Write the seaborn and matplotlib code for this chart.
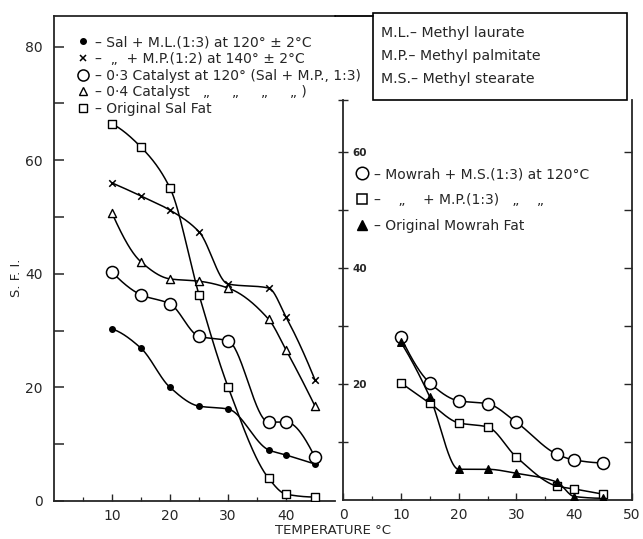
import numpy as np
import pandas as pd
import matplotlib
matplotlib.use("Agg")
import matplotlib.pyplot as plt
import seaborn as sns
from matplotlib.lines import Line2D
from matplotlib.patches import Rectangle

# ---------------- data ----------------
temps = [10, 15, 20, 25, 30, 37, 40, 45]

sal_ml = [30.3, 26.9, 20.0, 16.7, 16.2, 9.0, 8.1, 6.5]
sal_mp = [56.0, 53.7, 51.2, 47.4, 38.2, 37.5, 32.4, 21.3]
cat_03 = [40.3, 36.3, 34.7, 29.0, 28.2, 13.9, 13.9, 7.7]
cat_04 = [50.7, 42.1, 39.1, 38.7, 37.5, 32.0, 26.6, 16.7]
sal_orig = [66.4, 62.3, 55.1, 36.3, 20.1, 4.0, 1.2, 0.7]

mow_ms = [28.1, 20.2, 17.1, 16.6, 13.4, 7.9, 6.9, 6.4]
mow_mp = [20.2, 16.7, 13.3, 12.6, 7.4, 2.4, 1.9, 1.0]
mow_orig = [27.2, 17.8, 5.3, 5.3, 4.6, 3.1, 0.6, 0.3]

left_labels = [
    "– Sal + M.L.(1:3) at 120° ± 2°C",
    "–  „  + M.P.(1:2) at 140° ± 2°C",
    "– 0·3 Catalyst at 120° (Sal + M.P., 1:3)",
    "– 0·4 Catalyst   „     „     „     „ )",
    "– Original Sal Fat",
]
right_labels = [
    "– Mowrah + M.S.(1:3) at 120°C",
    "–    „    + M.P.(1:3)   „    „",
    "– Original Mowrah Fat",
]
abbrev_text = "M.L.– Methyl laurate\nM.P.– Methyl palmitate\nM.S.– Methyl stearate"
y_label = "S. F. I."
x_label = "TEMPERATURE °C"


# ---------------- smooth curve helper (monotone cubic) ----------------
def pchip(x, y, xs):
    x = np.asarray(x, float)
    y = np.asarray(y, float)
    h = np.diff(x)
    d = np.diff(y) / h
    n = len(x)
    m = np.zeros(n)
    for k in range(1, n - 1):
        if d[k - 1] * d[k] > 0:
            w1 = 2 * h[k] + h[k - 1]
            w2 = h[k] + 2 * h[k - 1]
            m[k] = (w1 + w2) / (w1 / d[k - 1] + w2 / d[k])
    def endslope(h0, h1, d0, d1):
        s = ((2 * h0 + h1) * d0 - h0 * d1) / (h0 + h1)
        if np.sign(s) != np.sign(d0):
            s = 0.0
        elif np.sign(d0) != np.sign(d1) and abs(s) > abs(3 * d0):
            s = 3 * d0
        return s
    m[0] = endslope(h[0], h[1], d[0], d[1])
    m[-1] = endslope(h[-1], h[-2], d[-1], d[-2])
    idx = np.clip(np.searchsorted(x, xs) - 1, 0, n - 2)
    t = (xs - x[idx]) / h[idx]
    h00 = 2 * t**3 - 3 * t**2 + 1
    h10 = t**3 - 2 * t**2 + t
    h01 = -2 * t**3 + 3 * t**2
    h11 = t**3 - t**2
    return h00 * y[idx] + h10 * h[idx] * m[idx] + h01 * y[idx + 1] + h11 * h[idx] * m[idx + 1]


sns.set_style("ticks")
plt.rcParams["font.family"] = ["DejaVu Sans"]

W, H = 643, 539
fig = plt.figure(figsize=(W / 100, H / 100), dpi=100)

def fx(px):
    return px / W

def fy(py):
    return 1 - py / H

# left panel: x from px 54 to 335, y from px 501 (0) to 16 (top)
axL = fig.add_axes([fx(54), fy(501), fx(335) - fx(54), fy(16) - fy(501)])
# right panel: x from px 343 to 632, y from px 500 (0) to 100 (top)
axR = fig.add_axes([fx(343), fy(500), fx(632) - fx(343), fy(100) - fy(500)])
axR.patch.set_alpha(0)

lw = 1.1
xs = np.linspace(10, 45, 300)

def draw(ax, vals, marker, s, fill, mlw=1.0):
    sns.lineplot(x=xs, y=pchip(temps, vals, xs), ax=ax, color="black",
                 linewidth=lw, estimator=None, sort=False)
    if marker == "x":
        sns.scatterplot(x=temps, y=vals, ax=ax, marker="x", s=s, color="black",
                        linewidth=1.1, zorder=3)
    else:
        sns.scatterplot(x=temps, y=vals, ax=ax, marker=marker, s=s,
                        facecolor=fill, edgecolor="black", linewidth=mlw, zorder=3)

draw(axL, sal_ml, "o", 16, "black")
draw(axL, sal_mp, "x", 22, "black")
draw(axL, cat_03, "o", 75, "white", 1.1)
draw(axL, cat_04, "^", 34, "white")
draw(axL, sal_orig, "s", 26, "white")

draw(axR, mow_ms, "o", 75, "white", 1.1)
draw(axR, mow_mp, "s", 30, "white")
draw(axR, mow_orig, "^", 30, "black")

# ---------- left axes styling ----------
axL.set_xlim(0, (335 - 54) / 5.8)
axL.set_ylim(0, (501 - 16) / 5.68)
axL.spines["right"].set_visible(False)
axL.spines["top"].set_visible(True)
for sp in axL.spines.values():
    sp.set_linewidth(1.3)
axL.set_yticks(np.arange(0, 81, 10))
axL.set_yticklabels(["0", "", "20", "", "40", "", "60", "", "80"])
axL.set_xticks([10, 20, 30, 40])
axL.set_xticks(np.arange(5, 48, 5), minor=True)
axL.tick_params(axis="y", direction="in", length=7, width=1.1, pad=8, labelsize=10)
axL.tick_params(axis="x", which="major", direction="in", length=5, width=1.0, pad=6, labelsize=10)
axL.tick_params(axis="x", which="minor", direction="in", length=3, width=0.9)
axL.set_xlabel("")
axL.set_ylabel("")

# ---------- right axes styling ----------
r_top = (500 - 100) / 5.8
ylim_R = (0, r_top)
axR.set_xlim(0, 50)
axR.set_ylim(*ylim_R)
axR.spines["top"].set_visible(False)
axR.spines["right"].set_visible(False)
for sp in axR.spines.values():
    sp.set_linewidth(1.3)
axR.set_xticks([0, 10, 20, 30, 40, 50])
axR.set_xticks(np.arange(5, 50, 5), minor=True)
axR.set_yticks(list(np.arange(10, 61, 10)) + [r_top])
axR.set_yticklabels(["", "20", "", "40", "", "60", ""])
axR.tick_params(axis="y", direction="inout", length=7, width=1.0, pad=-10,
                labelsize=7.5)
for lab in axR.get_yticklabels():
    lab.set_horizontalalignment("left")
    lab.set_fontweight("bold")
axR.tick_params(axis="x", which="major", direction="in", length=5, width=1.0, pad=6, labelsize=10)
axR.tick_params(axis="x", which="minor", direction="in", length=3, width=0.9)
axR.set_xlabel("")
axR.set_ylabel("")

# right-hand frame of the right panel (inward ticks)
axT = axR.twinx()
axT.patch.set_alpha(0)
axT.set_ylim(*ylim_R)
for k in ["top", "left", "bottom"]:
    axT.spines[k].set_visible(False)
axT.spines["right"].set_linewidth(1.3)
axT.set_yticks(np.arange(10, 61, 10))
axT.set_yticklabels([])
axT.tick_params(axis="y", direction="in", length=6, width=1.0)

# top border continuing to the abbreviation box
fig.add_artist(Line2D([fx(335), fx(373)], [fy(16), fy(16)], color="black", lw=1.3))

# ---------- legends ----------
hL = [
    Line2D([], [], ls="none", marker="o", ms=4, mfc="black", mec="black"),
    Line2D([], [], ls="none", marker="x", ms=5, mec="black", mew=1.1),
    Line2D([], [], ls="none", marker="o", ms=8, mfc="white", mec="black", mew=1.1),
    Line2D([], [], ls="none", marker="^", ms=6, mfc="white", mec="black"),
    Line2D([], [], ls="none", marker="s", ms=5.5, mfc="white", mec="black"),
]
legL = axL.legend(hL, left_labels, loc="upper left",
                  bbox_to_anchor=((77 - 54) / 281, (501 - 35) / 485),
                  frameon=False, fontsize=10, handlelength=0.9, handletextpad=0.4,
                  labelspacing=0.2, borderpad=0, borderaxespad=0)
legL.set_zorder(10)

hR = [
    Line2D([], [], ls="none", marker="o", ms=9, mfc="white", mec="black", mew=1.1),
    Line2D([], [], ls="none", marker="s", ms=7.5, mfc="white", mec="black", mew=1.1),
    Line2D([], [], ls="none", marker="^", ms=7, mfc="black", mec="black"),
]
legR = axR.legend(hR, right_labels, loc="upper left",
                  bbox_to_anchor=((356 - 343) / 289, (500 - 167) / 400),
                  frameon=False, fontsize=10, handlelength=0.9, handletextpad=0.4,
                  labelspacing=0.85, borderpad=0, borderaxespad=0)

# ---------- abbreviation box ----------
fig.add_artist(Rectangle((fx(373), fy(100)), fx(627) - fx(373), fy(13) - fy(100),
                         transform=fig.transFigure, fill=False, ec="black", lw=1.2))
fig.text(fx(381), fy(56), abbrev_text, ha="left", va="center", fontsize=10.2,
         linespacing=1.85)

# ---------- axis titles ----------
fig.text(fx(17), fy(278), y_label, rotation=90, ha="center", va="center", fontsize=9.5)
fig.text(fx(333), fy(531), x_label, ha="center", va="center", fontsize=9.5)

fig.savefig("out.png", dpi=100)
